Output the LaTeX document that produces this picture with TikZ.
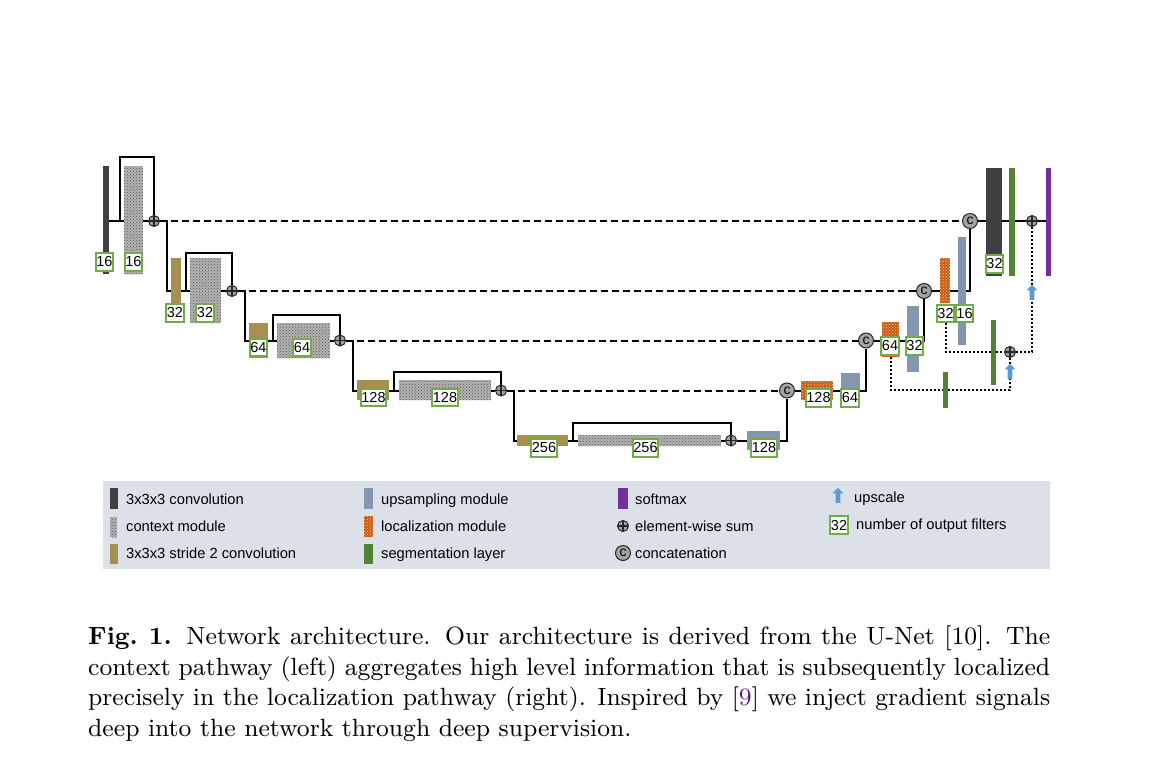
\documentclass[tikz,border=0pt]{standalone}
\usepackage{fontspec}
\usepackage{xcolor}
\usepackage{tikz}
\newfontfamily\legfont{Liberation Sans}
\newfontfamily\capfont{lmroman9-regular}[Extension=.otf, BoldFont=lmroman9-bold]
\usetikzlibrary{patterns,shapes.arrows,backgrounds}

\definecolor{convgray}{HTML}{404040}
\definecolor{ctxlight}{HTML}{B2B2B2}
\definecolor{ctxdark}{HTML}{575757}
\definecolor{strideolive}{HTML}{A6904F}
\definecolor{upgray}{HTML}{8497B0}
\definecolor{locorange}{HTML}{C95E14}
\definecolor{loclight}{HTML}{F6C3A0}
\definecolor{seggreen}{HTML}{548235}
\definecolor{smaxpurple}{HTML}{7030A0}
\definecolor{upblue}{HTML}{5B9BD5}
\definecolor{filtgreen}{HTML}{70AD47}
\definecolor{opgray}{HTML}{A3A3A3}
\definecolor{legendbg}{HTML}{DCE1E9}
\definecolor{citepurple}{HTML}{5A1E6E}

\tikzset{
  blk/.style={inner sep=0pt, draw=none},
  sz/.style 2 args={minimum width=#1pt, minimum height=#2pt},
  conv/.style={blk, fill=convgray},
  ctx/.style={blk, preaction={fill=ctxlight}, pattern=crosshatch dots, pattern color=ctxdark},
  stride/.style={blk, fill=strideolive},
  upsmp/.style={blk, fill=upgray},
  loc/.style={blk, preaction={fill=locorange}, pattern=crosshatch dots, pattern color=loclight},
  seg/.style={blk, fill=seggreen},
  smax/.style={blk, fill=smaxpurple},
  filters/.style={draw=filtgreen, line width=2pt, fill=white, inner xsep=0.8pt, inner ysep=0pt,
    minimum height=17.5pt, font=\legfont\fontsize{14.5}{14.5}\selectfont},
  esum/.style={circle, draw=black!85, line width=1pt, fill=opgray, minimum size=11pt, inner sep=0pt,
    path picture={\draw[line width=1.2pt] (path picture bounding box.north) -- (path picture bounding box.south)
      (path picture bounding box.west) -- (path picture bounding box.east);}},
  cat/.style={circle, draw=black!85, line width=1pt, fill=opgray, minimum size=15pt, inner sep=0pt,
    font=\legfont\fontsize{14}{14}\selectfont},
  upscale/.style={single arrow, fill=upblue, draw=none, inner sep=2.2pt, minimum height=15pt,
    single arrow head extend=3.2pt, single arrow head indent=0pt, shape border rotate=90},
  link/.style={line width=2pt},
  skipcon/.style={line width=2pt, dash pattern=on 7pt off 4pt},
  deepsup/.style={line width=2pt, dash pattern=on 2pt off 2pt},
  legtext/.style={font=\legfont\fontsize{14.7}{14.7}\selectfont, inner sep=0pt, anchor=base west},
  caption/.style={anchor=north west, inner sep=0pt, text width=962pt, align=justify,
    font=\capfont\fontsize{24.95}{30.5}\selectfont},
}

\begin{document}
\begin{tikzpicture}[x=1pt, y=-1pt]
  \useasboundingbox (0,0) rectangle (1152,764);

  % level 1 (context)
  \node[conv, sz={6}{108}] (conv1) at (106,220) {};
  \node[ctx, sz={19}{108}] (ctx1) at (133.5,220) {};
  \node[esum] (sum1) at (154,221) {};
  % level 2
  \node[stride, sz={10}{45}] (str2) at (176,280.5) {};
  \node[ctx, sz={31}{65}] (ctx2) at (205.5,290.5) {};
  \node[esum] (sum2) at (232,291) {};
  % level 3
  \node[stride, sz={19}{35}] (str3) at (258.5,340.5) {};
  \node[ctx, sz={53}{35}] (ctx3) at (303.5,340.5) {};
  \node[esum] (sum3) at (340,340.5) {};
  % level 4
  \node[stride, sz={32}{20}] (str4) at (373,390) {};
  \node[ctx, sz={92}{20}] (ctx4) at (445,390) {};
  \node[esum] (sum4) at (501,390.5) {};
  % level 5 (bottom)
  \node[stride, sz={51}{11}] (str5) at (542.5,440.5) {};
  \node[ctx, sz={143}{11}] (ctx5) at (649.5,440.5) {};
  \node[esum] (sum5) at (731,440.5) {};
  \node[upsmp, sz={33}{19}] (up5) at (763.5,440.5) {};

  % localization pathway
  \node[cat] (cat4) at (787,390.5) {c};
  \node[loc, sz={32}{19}] (loc4) at (817,390.5) {};
  \node[upsmp, sz={19}{25}] (up4) at (850.5,385.5) {};
  \node[cat] (cat3) at (866,340.5) {c};
  \node[loc, sz={17}{35}] (loc3) at (890.5,339.5) {};
  \node[upsmp, sz={12}{66}] (up3) at (913,339) {};
  \node[cat] (cat2) at (924,291) {c};
  \node[loc, sz={10}{45}] (loc2) at (945,280.5) {};
  \node[upsmp, sz={8}{108}] (up2) at (962,291) {};
  \node[cat] (cat1) at (970,221) {c};
  \node[conv, sz={16}{108}] (convF) at (994,222) {};
  \node[seg, sz={6}{108}] (segF) at (1012,222) {};
  \node[esum] (sumF) at (1032,221) {};
  \node[smax, sz={5}{108}] (smax) at (1048.5,222) {};

  % deep supervision
  \node[seg, sz={5}{36}] (seg1) at (945.5,390) {};
  \node[seg, sz={5}{65}] (seg2) at (993.5,352) {};
  \node[esum] (sumS) at (1010,352) {};
  \node[upscale] (us1) at (1010,372.5) {};
  \node[upscale] (us2) at (1032,293.5) {};

  % number of filters
  \node[filters] (conv1n) at (104.5,262) {16};
  \node[filters] (ctx1n) at (133.5,262) {16};
  \node[filters] (str2n) at (175,313) {32};
  \node[filters] (ctx2n) at (205,313) {32};
  \node[filters] (str3n) at (258.5,347.5) {64};
  \node[filters] (ctx3n) at (302,347.5) {64};
  \node[filters] (str4n) at (373.5,397.5) {128};
  \node[filters] (ctx4n) at (445,397.5) {128};
  \node[filters] (str5n) at (544,448) {256};
  \node[filters] (ctx5n) at (645.5,448) {256};
  \node[filters] (up5n) at (764,448) {128};
  \node[filters] (loc4n) at (818.5,398) {128};
  \node[filters] (up4n) at (850,398) {64};
  \node[filters] (loc3n) at (890,346) {64};
  \node[filters] (up3n) at (914.5,346) {32};
  \node[filters] (loc2n) at (945.5,313.5) {32};
  \node[filters] (up2n) at (964.5,313.5) {16};
  \node[filters] (convFn) at (994.5,264) {32};

  % skip loop corners
  \coordinate (sk1) at (119.5,221);  \coordinate (tp1) at (154,157);
  \coordinate (sk2) at (186,291);    \coordinate (tp2) at (232,253);
  \coordinate (sk3) at (273,340.5);  \coordinate (tp3) at (340,315);
  \coordinate (sk4) at (394,390.5);  \coordinate (tp4) at (501,372);
  \coordinate (sk5) at (573,440.5);  \coordinate (tp5) at (731,423);

  \begin{scope}[on background layer]
    % context pathway
    \draw[link] (conv1.east |- sum1) -- (ctx1.west |- sum1);
    \draw[link] (ctx1.east |- sum1) -- (sum1.west);
    \draw[link] (sk1) |- (tp1) -- (sum1.north);
    \draw[link] (sum1.east) -- ++(7,0) |- (str2.west |- sum2);
    \draw[link] (str2.east |- sum2) -- (ctx2.west |- sum2);
    \draw[link] (ctx2.east |- sum2) -- (sum2.west);
    \draw[link] (sk2) |- (tp2) -- (sum2.north);
    \draw[link] (sum2.east) -- ++(7,0) |- (str3.west |- sum3);
    \draw[link] (str3.east |- sum3) -- (ctx3.west |- sum3);
    \draw[link] (ctx3.east |- sum3) -- (sum3.west);
    \draw[link] (sk3) |- (tp3) -- (sum3.north);
    \draw[link] (sum3.east) -- ++(7,0) |- (str4.west |- sum4);
    \draw[link] (str4.east |- sum4) -- (ctx4.west |- sum4);
    \draw[link] (ctx4.east |- sum4) -- (sum4.west);
    \draw[link] (sk4) |- (tp4) -- (sum4.north);
    \draw[link] (sum4.east) -- ++(7,0) |- (str5.west |- sum5);
    \draw[link] (str5.east |- sum5) -- (ctx5.west |- sum5);
    \draw[link] (ctx5.east |- sum5) -- (sum5.west);
    \draw[link] (sk5) |- (tp5) -- (sum5.north);
    \draw[link] (sum5.east) -- (up5.west |- sum5);
    \draw[link] (up5.east |- sum5) -| (cat4.south);

    % skip connections
    \draw[skipcon] (sum1.east) -- (cat1.west);
    \draw[skipcon] (sum2.east) -- (cat2.west);
    \draw[skipcon] (sum3.east) -- (cat3.west);
    \draw[skipcon] (sum4.east) -- (cat4.west);

    % localization pathway
    \draw[link] (cat4.east) -- (loc4.west |- cat4);
    \draw[link] (loc4.east |- cat4) -- (up4.west |- cat4);
    \draw[link] (up4.east |- cat4) -| (cat3.south);
    \draw[link] (cat3.east) -- (loc3.west |- cat3);
    \draw[link] (loc3.east |- cat3) -- (up3.west |- cat3);
    \draw[link] (up3.east |- cat3) -| (cat2.south);
    \draw[link] (cat2.east) -- (loc2.west |- cat2);
    \draw[link] (loc2.east |- cat2) -- (up2.west |- cat2);
    \draw[link] (up2.east |- cat2) -| (cat1.south);
    \draw[link] (cat1.east) -- (convF.west |- cat1);
    \draw[link] (convF.east |- cat1) -- (segF.west |- cat1);
    \draw[link] (segF.east |- cat1) -- (sumF.west);
    \draw[link] (sumF.east) -- (smax.west |- sumF);

    % deep supervision
    \draw[deepsup] (loc3.south) |- (seg1.west);
    \draw[deepsup] (seg1.east) -| (us1.tail);
    \draw[deepsup] (us1.tip) -- (sumS.south);
    \draw[deepsup] (loc2n.south) |- (seg2.west);
    \draw[deepsup] (seg2.east) -- (sumS.west);
    \draw[deepsup] (sumS.east) -| (us2.tail);
    \draw[deepsup] (us2.tip) -- (sumF.south);
  \end{scope}

  % Legend
  \fill[legendbg] (103,481) rectangle (1050,569);
  \node[conv, sz={8}{21}] (kconv) at (114,498.5) {};
  \node[legtext] (tconv) at (126,504) {3x3x3 convolution};
  \node[ctx, sz={7}{20}] (kctx) at (113.5,527) {};
  \node[legtext] (tctx) at (126,531) {context module};
  \node[stride, sz={8}{20}] (kstr) at (114,554) {};
  \node[legtext] (tstr) at (126,558.5) {3x3x3 stride 2 convolution};
  \node[upsmp, sz={9}{21}] (kup) at (368.5,498.5) {};
  \node[legtext] (tup) at (381,504) {upsampling module};
  \node[loc, sz={9}{21}] (kloc) at (368.5,526.5) {};
  \node[legtext] (tloc) at (381,531) {localization module};
  \node[seg, sz={9}{20}] (kseg) at (368.5,554) {};
  \node[legtext] (tseg) at (381,558.5) {segmentation layer};
  \node[smax, sz={10}{21}] (ksmax) at (623,498.5) {};
  \node[legtext] (tsmax) at (635,504) {softmax};
  \node[esum] (ksum) at (623,526) {};
  \node[legtext] (tsum) at (635,531) {element-wise sum};
  \node[cat] (kcat) at (623,553) {c};
  \node[legtext] (tcat) at (635,558.5) {concatenation};
  \node[upscale] (kus) at (838,496.5) {};
  \node[legtext] (tus) at (854,502) {upscale};
  \node[filters] (kfilt) at (839,525) {32};
  \node[legtext] (tfilt) at (856,529.5) {number of output filters};

  % Caption
  \node[caption] (cap) at (88,626) {\noindent\textbf{Fig.~1.} Network architecture. Our architecture is derived from the U-Net [10]. The context pathway (left) aggregates high level information that is subsequently localized precisely in the localization pathway (right). Inspired by [\textcolor{citepurple}{9}] we inject gradient signals deep into the network through deep supervision.};
\end{tikzpicture}
\end{document}
